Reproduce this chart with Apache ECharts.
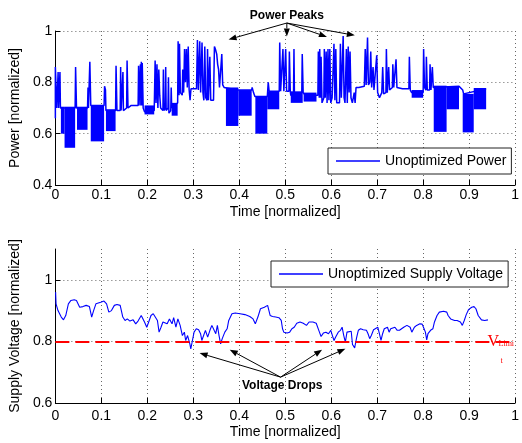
<!DOCTYPE html>
<html><head><meta charset="utf-8">
<script src="https://cdn.jsdelivr.net/npm/echarts@6/dist/echarts.min.js"></script>
<style>html,body{margin:0;padding:0;background:#fff}#c{width:522px;height:443px}</style>
</head><body><div id="c"></div>
<script>
// ---- data ----
const powerName = 'Unoptimized Power';
const voltageName = 'Unoptimized Supply Voltage';
const vLimit = 0.8;
// power trace [time, power]
const powerTrace = [
[0.000,0.66],[0.000,0.86],[0.002,0.86],[0.003,0.70],[0.005,0.70],[0.006,0.84],[0.007,0.70],[0.009,0.70],[0.010,0.84],[0.011,0.70],[0.012,0.70],
[0.043,0.70],[0.044,0.86],[0.046,0.70],
[0.070,0.70],[0.071,0.78],[0.072,0.70],[0.074,0.70],[0.075,0.88],[0.077,0.71],
[0.106,0.71],[0.107,0.785],[0.109,0.77],[0.110,0.69],
[0.131,0.69],[0.132,0.865],[0.134,0.69],[0.141,0.69],[0.142,0.86],[0.143,0.69],[0.146,0.69],[0.147,0.84],[0.148,0.69],[0.155,0.70],[0.156,0.885],[0.158,0.70],[0.165,0.71],[0.180,0.71],[0.181,0.865],[0.182,0.71],[0.184,0.71],[0.185,0.87],[0.186,0.71],[0.187,0.88],[0.188,0.71],[0.189,0.875],[0.191,0.70],[0.194,0.685],
[0.215,0.69],[0.217,0.885],[0.219,0.72],[0.221,0.87],[0.223,0.70],[0.225,0.85],[0.227,0.75],[0.229,0.70],[0.234,0.69],[0.235,0.85],[0.236,0.69],[0.239,0.70],[0.240,0.86],[0.241,0.69],[0.245,0.70],[0.246,0.82],[0.247,0.68],[0.251,0.69],[0.252,0.78],[0.253,0.70],
[0.266,0.72],[0.267,0.96],[0.269,0.75],[0.270,0.95],[0.272,0.76],[0.276,0.75],[0.277,0.85],[0.279,0.76],[0.281,0.93],[0.283,0.80],[0.285,0.93],[0.287,0.78],[0.289,0.94],[0.291,0.77],[0.293,0.73],[0.295,0.775],[0.307,0.775],[0.309,0.965],[0.311,0.77],[0.314,0.96],[0.316,0.76],[0.319,0.955],[0.321,0.76],[0.323,0.73],[0.325,0.94],[0.327,0.74],[0.330,0.73],[0.331,0.93],[0.333,0.73],[0.336,0.90],[0.338,0.73],[0.344,0.73],[0.346,0.94],[0.348,0.93],[0.351,0.91],[0.353,0.87],[0.355,0.85],[0.357,0.78],[0.360,0.78],[0.362,0.91],[0.364,0.79],[0.367,0.78],[0.369,0.775],[0.371,0.775],
[0.396,0.77],[0.399,0.77],
[0.427,0.77],[0.428,0.78],[0.431,0.76],[0.434,0.745],
[0.461,0.745],[0.463,0.80],[0.465,0.765],
[0.487,0.765],[0.488,0.955],[0.490,0.765],[0.494,0.765],[0.495,0.93],[0.497,0.765],[0.500,0.765],[0.501,0.93],[0.503,0.765],[0.508,0.765],[0.509,0.92],[0.511,0.765],[0.512,0.75],[0.518,0.75],[0.519,0.93],[0.520,0.75],
[0.533,0.75],[0.536,0.76],[0.537,0.91],[0.539,0.76],[0.543,0.75],
[0.571,0.75],[0.572,0.92],[0.574,0.74],[0.575,0.93],[0.577,0.74],[0.578,0.90],[0.580,0.72],[0.584,0.74],[0.585,0.93],[0.587,0.74],[0.589,0.92],[0.591,0.72],[0.593,0.93],[0.595,0.73],[0.597,0.93],[0.599,0.72],[0.602,0.74],[0.606,0.95],[0.608,0.73],[0.610,0.93],[0.612,0.72],[0.618,0.72],[0.620,0.95],[0.622,0.74],[0.626,0.98],[0.628,0.74],[0.630,0.72],[0.633,0.93],[0.635,0.72],[0.637,0.94],[0.639,0.76],[0.641,0.92],[0.643,0.74],[0.646,0.72],[0.650,0.76],[0.652,0.72],[0.654,0.78],[0.660,0.78],[0.672,0.785],[0.674,0.93],[0.676,0.79],[0.679,0.975],[0.681,0.79],[0.684,0.80],[0.686,0.92],[0.688,0.78],[0.691,0.86],[0.693,0.77],[0.699,0.905],[0.701,0.76],[0.705,0.74],[0.710,0.76],[0.712,0.86],[0.714,0.755],[0.719,0.76],[0.720,0.93],[0.722,0.76],[0.725,0.86],[0.727,0.77],[0.733,0.78],[0.734,0.87],[0.736,0.78],[0.740,0.78],[0.741,0.89],[0.743,0.78],[0.755,0.775],[0.769,0.775],[0.770,0.90],[0.772,0.77],[0.775,0.76],
[0.800,0.76],[0.801,0.93],[0.803,0.78],[0.806,0.77],[0.807,0.90],[0.809,0.77],[0.814,0.77],[0.815,0.87],[0.817,0.77],[0.820,0.86],[0.822,0.78],[0.823,0.787],
[0.878,0.785],[0.882,0.78],[0.886,0.77],[0.888,0.755],
[0.937,0.775]
];
// rapidly switching stretches of the power trace: [t start, t end, low, high]
const powerBands = [
[0.012,0.020,0.60,0.705],[0.020,0.043,0.545,0.705],[0.047,0.070,0.615,0.705],
[0.077,0.106,0.57,0.71],[0.110,0.131,0.61,0.695],[0.194,0.215,0.675,0.71],
[0.253,0.266,0.67,0.72],[0.371,0.398,0.63,0.78],[0.398,0.427,0.67,0.77],
[0.435,0.461,0.60,0.745],[0.461,0.487,0.695,0.765],[0.512,0.538,0.72,0.765],
[0.540,0.568,0.725,0.76],[0.775,0.800,0.74,0.77],[0.823,0.851,0.607,0.787],
[0.851,0.878,0.695,0.785],[0.886,0.910,0.605,0.755],[0.910,0.937,0.695,0.778]
];
// supply voltage trace [time, voltage]
const voltageTrace = [
[0.0005,0.96],[0.0015,0.922],[0.0057,0.900],[0.0128,0.879],[0.0177,0.870],[0.0226,0.884],[0.0283,0.922],[0.0339,0.933],[0.041,0.935],[0.0459,0.933],[0.0529,0.911],[0.06,0.913],[0.067,0.917],[0.0741,0.913],[0.079,0.879],[0.0832,0.900],[0.0882,0.922],[0.0987,0.927],[0.1058,0.931],[0.1114,0.922],[0.1163,0.895],[0.122,0.900],[0.1283,0.917],[0.134,0.920],[0.141,0.917],[0.1467,0.879],[0.1516,0.868],[0.1565,0.873],[0.1622,0.866],[0.1692,0.870],[0.1748,0.857],[0.1798,0.866],[0.1868,0.884],[0.1939,0.863],[0.1988,0.846],[0.203,0.863],[0.208,0.884],[0.2129,0.890],[0.2171,0.887],[0.222,0.868],[0.2256,0.830],[0.2298,0.846],[0.234,0.863],[0.2383,0.868],[0.2432,0.857],[0.2481,0.873],[0.2538,0.857],[0.2573,0.877],[0.2622,0.846],[0.2665,0.873],[0.2714,0.852],[0.2763,0.819],[0.2806,0.830],[0.2834,0.803],[0.2876,0.819],[0.2925,0.792],[0.2946,0.776],[0.2975,0.798],[0.3017,0.830],[0.3066,0.841],[0.3116,0.838],[0.3158,0.825],[0.3186,0.803],
[0.3264,0.836],[0.3313,0.814],[0.3362,0.836],[0.3404,0.852],[0.3454,0.836],[0.3489,0.825],[0.3524,0.852],[0.356,0.819],[0.3595,0.792],[0.363,0.809],[0.3686,0.830],[0.3736,0.841],[0.3771,0.868],[0.3841,0.890],[0.3912,0.892],[0.4018,0.890],[0.4123,0.887],[0.4229,0.881],[0.43,0.873],[0.4349,0.857],[0.4405,0.879],[0.4461,0.906],[0.4546,0.911],[0.4617,0.917],[0.4645,0.915],[0.4673,0.884],[0.4722,0.881],[0.4793,0.879],[0.4863,0.877],[0.4913,0.868],[0.4941,0.841],[0.4969,0.830],[0.5004,0.836],[0.504,0.827],[0.5096,0.830],[0.5145,0.841],[0.5195,0.846],[0.5251,0.859],[0.5321,0.863],[0.5392,0.859],[0.5462,0.852],[0.5519,0.863],[0.5603,0.863],[0.5674,0.859],[0.5709,0.857],[0.5744,0.830],[0.5779,0.816],[0.5829,0.827],[0.5885,0.830],[0.5941,0.825],[0.5991,0.836],[0.6026,0.819],[0.6061,0.803],[0.6097,0.814],[0.6153,0.830],[0.6202,0.836],[0.6237,0.846],[0.6273,0.819],[0.6308,0.798],[0.6343,0.830],[0.6378,0.836],[0.6435,0.833],[0.6463,0.79],[0.651,0.779],
[0.6555,0.814],[0.659,0.836],[0.6639,0.841],[0.6696,0.838],[0.6766,0.836],[0.6801,0.825],[0.6837,0.809],[0.6872,0.819],[0.6921,0.838],[0.6963,0.833],[0.7013,0.846],[0.7048,0.825],[0.7083,0.803],[0.7118,0.825],[0.7154,0.841],[0.7189,0.836],[0.7224,0.846],[0.7259,0.830],[0.7294,0.841],[0.733,0.836],[0.7386,0.846],[0.7436,0.836],[0.7485,0.836],[0.7527,0.841],[0.7577,0.846],[0.7647,0.852],[0.7717,0.846],[0.7753,0.830],[0.7809,0.846],[0.7858,0.852],[0.7929,0.857],[0.7978,0.856],[0.802,0.841],[0.8049,0.830],[0.8077,0.805],[0.8105,0.825],[0.8161,0.836],[0.8211,0.841],[0.8246,0.863],[0.8302,0.884],[0.8352,0.895],[0.8443,0.898],[0.8514,0.895],[0.8542,0.884],[0.8598,0.873],[0.8683,0.868],[0.8739,0.868],[0.881,0.863],[0.8852,0.852],[0.8894,0.868],[0.8937,0.887],[0.8986,0.903],[0.9056,0.911],[0.9106,0.913],[0.9148,0.906],[0.9197,0.884],[0.9268,0.870],[0.9338,0.868],[0.9409,0.870]
];
// annotations (data coordinates)
const powerPeakLabel = {text: 'Power Peaks', at: [0.5035, 1.061], from: [0.5035, 1.031],
  to: [[0.3767, 0.967], [0.5035, 0.979], [0.5907, 0.977], [0.6514, 0.983]]};
const voltageDropLabel = {text: 'Voltage Drops', at: [0.4934, 0.655], from: [0.4899, 0.684],
  to: [[0.3137, 0.762], [0.3793, 0.773], [0.5801, 0.773], [0.6309, 0.776]]};

// ---- chart ----
const FONT = 'Liberation Sans, Arial, Helvetica, sans-serif';
const chart = echarts.init(document.getElementById('c'), null, {renderer: 'canvas'});

function xAx(gi, labelMargin, nameGap) {
  return {
    type: 'value', gridIndex: gi, min: 0, max: 1, interval: 0.1,
    name: 'Time [normalized]', nameLocation: 'middle', nameGap: nameGap,
    nameTextStyle: {fontFamily: FONT, fontSize: 14, color: '#000'},
    axisLine: {onZero: false, lineStyle: {color: '#000', width: 1}},
    axisTick: {inside: true, length: 5, lineStyle: {color: '#000'}},
    axisLabel: {fontFamily: FONT, fontSize: 14, color: '#000', margin: labelMargin},
    splitLine: {show: true, lineStyle: {color: '#666', width: 1, type: [1, 3]}}
  };
}
function yAx(gi, min, max, name) {
  return {
    type: 'value', gridIndex: gi, min: min, max: max, interval: 0.2,
    name: name, nameLocation: 'middle', nameGap: 27, nameRotate: 90,
    nameTextStyle: {fontFamily: FONT, fontSize: 14, color: '#000'},
    axisLine: {show: true, onZero: false, lineStyle: {color: '#000', width: 1}},
    axisTick: {show: true, inside: true, length: 5, lineStyle: {color: '#000'}},
    axisLabel: {fontFamily: FONT, fontSize: 14, color: '#000', margin: 3, showMaxLabel: max === 1},
    splitLine: {show: true, showMaxLine: max === 1, lineStyle: {color: '#666', width: 1, type: [1, 3]}}
  };
}
function legendBox(name, left, top) {
  return {
    data: [{name: name, icon: 'rect'}], left: left, top: top, orient: 'horizontal',
    itemWidth: 44, itemHeight: 1.3, itemGap: 5,
    padding: [5, 5, 5, 8], backgroundColor: '#fff',
    borderColor: '#222', borderWidth: 1, borderRadius: 0,
    itemStyle: {color: '#0000ff', borderWidth: 0},
    textStyle: {fontFamily: FONT, fontSize: 14, color: '#000', lineHeight: 16},
    selectedMode: false
  };
}

chart.setOption({
  animation: false,
  backgroundColor: '#fff',
  grid: [
    {left: 48, top: 31, right: 1, bottom: 258},
    {left: 48, top: 249, right: 1, bottom: 40}
  ],
  xAxis: [xAx(0, 3, 20), xAx(1, 6, 22)],
  yAxis: [yAx(0, 0.4, 1, 'Power [normalized]'), yAx(1, 0.6, 1.1, 'Supply Voltage [normalized]')],
  legend: [legendBox(powerName, 328, 148), legendBox(voltageName, 271, 261)],
  series: [
    {
      name: 'bands', type: 'custom', xAxisIndex: 0, yAxisIndex: 0,
      data: powerBands, encode: {x: [0, 1], y: [2, 3]}, silent: true,
      renderItem: function (params, api) {
        const p0 = api.coord([api.value(0), api.value(3)]);
        const p1 = api.coord([api.value(1), api.value(2)]);
        return {type: 'rect', shape: {x: p0[0], y: p0[1], width: p1[0] - p0[0], height: p1[1] - p0[1]},
          style: {fill: '#0000ff'}};
      }
    },
    {
      name: powerName, type: 'line', xAxisIndex: 0, yAxisIndex: 0,
      data: powerTrace, showSymbol: false, symbol: 'none',
      lineStyle: {color: '#0000ff', width: 1.5}, itemStyle: {color: '#0000ff'}
    },
    {
      name: voltageName, type: 'line', xAxisIndex: 1, yAxisIndex: 1,
      data: voltageTrace, showSymbol: false, symbol: 'none',
      lineStyle: {color: '#0000ff', width: 1.1}, itemStyle: {color: '#0000ff'},
      markLine: {
        silent: true, symbol: ['none', 'none'], label: {show: false},
        lineStyle: {color: '#ff0000', type: [14, 6], width: 2},
        data: [{yAxis: vLimit}]
      }
    }
  ]
});

// ---- annotations ----
function arrowEls(s, e) {
  const dx = e[0] - s[0], dy = e[1] - s[1];
  const len = Math.sqrt(dx * dx + dy * dy);
  const ux = dx / len, uy = dy / len, nx = -uy, ny = ux;
  const L = 8, W = 3;
  const bx = e[0] - L * ux, by = e[1] - L * uy;
  return [
    {type: 'line', silent: true, shape: {x1: s[0], y1: s[1], x2: bx, y2: by}, style: {stroke: '#000', lineWidth: 1}},
    {type: 'polygon', silent: true, shape: {points: [[e[0], e[1]], [bx + W * nx, by + W * ny], [bx - W * nx, by - W * ny]]}, style: {fill: '#000'}}
  ];
}
function annot(ann, gi) {
  const els = [];
  const s = chart.convertToPixel({gridIndex: gi}, ann.from);
  ann.to.forEach(function (t) {
    els.push.apply(els, arrowEls(s, chart.convertToPixel({gridIndex: gi}, t)));
  });
  const p = chart.convertToPixel({gridIndex: gi}, ann.at);
  els.push({type: 'text', silent: true, x: p[0], y: p[1],
    style: {text: ann.text, fontFamily: FONT, fontSize: 12, fontWeight: 'bold', fill: '#000', align: 'center', verticalAlign: 'middle'}});
  return els;
}
const g = [].concat(annot(powerPeakLabel, 0), annot(voltageDropLabel, 1));
const vp = chart.convertToPixel({gridIndex: 1}, [0.94, vLimit]);
g.push({type: 'text', silent: true, x: vp[0], y: vp[1] + 0.5,
  style: {text: 'V', fontFamily: 'Liberation Serif, Times New Roman, serif', fontSize: 16, fill: '#ff0000', align: 'left', verticalAlign: 'middle'}});
g.push({type: 'text', silent: true, x: vp[0] + 11, y: vp[1] + 3,
  style: {text: 'Limi', fontFamily: 'Liberation Serif, Times New Roman, serif', fontSize: 8, fill: '#ff0000', align: 'left', verticalAlign: 'middle'}});
g.push({type: 'text', silent: true, x: vp[0] + 13, y: vp[1] + 20,
  style: {text: 't', fontFamily: 'Liberation Serif, Times New Roman, serif', fontSize: 8, fill: '#ff0000', align: 'left', verticalAlign: 'middle'}});
chart.setOption({graphic: g});
</script></body></html>
